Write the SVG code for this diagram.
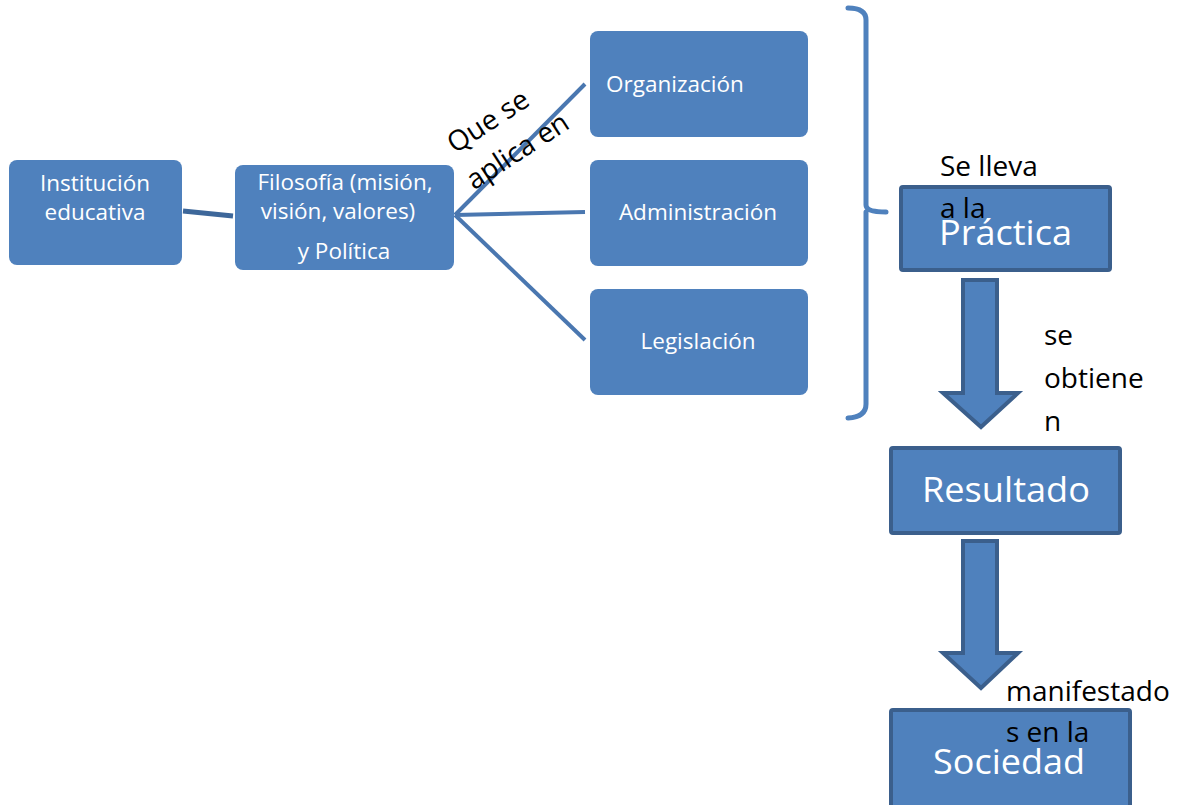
<svg xmlns="http://www.w3.org/2000/svg" width="1196" height="805" viewBox="0 0 1196 805">
<defs>
<style>
.box{fill:#4f81bd;}
.sq{fill:#4f81bd;stroke:#3b5f8c;stroke-width:4;}
.wt{fill:#ffffff;font-family:"Open Sans","Noto Sans",sans-serif;font-size:22.5px;text-anchor:middle;}
.big{fill:#ffffff;font-family:"Open Sans","Noto Sans",sans-serif;font-size:35px;}
.lab{fill:#000000;font-family:"Open Sans","Noto Sans",sans-serif;font-size:28px;}
.ln{stroke:#4a77b0;stroke-width:4;fill:none;stroke-linecap:butt;}
.arr{fill:#4f81bd;stroke:#3b5f8c;stroke-width:4;stroke-linejoin:miter;}
</style>
</defs>
<rect width="1196" height="805" fill="#ffffff"/>
<g id="connectors">
<line x1="183" y1="211" x2="233" y2="216" stroke="#3d679a" stroke-width="5"/>
<line class="ln" x1="455" y1="215" x2="585" y2="84"/>
<line class="ln" x1="455" y1="215" x2="585" y2="212"/>
<line class="ln" x1="455" y1="215" x2="585" y2="340"/>
<path d="M848 8 Q866 8 866 20 L866 205 Q866 212 886 212 M866 212 L866 404 Q866 417 848 418" stroke="#4f81bd" stroke-width="5" fill="none" stroke-linecap="round"/>
<path class="arr" d="M963 280 L997 280 L997 393 L1018 393 L981 427 L943 393 L963 393 Z"/>
<path class="arr" d="M963 541 L997 541 L997 653 L1018 653 L981 688 L943 653 L963 653 Z"/>
</g>
<g id="institucion">
<rect class="box" x="9" y="160" width="173" height="105" rx="8"/>
<text class="wt" x="95" y="191">Institución</text>
<text class="wt" x="95" y="220">educativa</text>
</g>
<g id="filosofia">
<rect class="box" x="235" y="165" width="219" height="105" rx="8"/>
<text class="wt" x="345" y="190">Filosofía (misión,</text>
<text class="wt" x="338" y="219">visión, valores)</text>
<text class="wt" x="344" y="259">y Política</text>
</g>
<g id="label-aplica">
<g transform="translate(455,154) rotate(-33)">
<text class="lab" x="0" y="0" font-size="31">Que se</text>
<text class="lab" x="-4" y="41" font-size="31">aplica en</text>
</g>
</g>
<g id="organizacion">
<rect class="box" x="590" y="31" width="218" height="106" rx="8"/>
<text class="wt" x="606" y="92" style="text-anchor:start">Organización</text>
</g>
<g id="administracion">
<rect class="box" x="590" y="160" width="218" height="106" rx="8"/>
<text class="wt" x="698" y="220">Administración</text>
</g>
<g id="legislacion">
<rect class="box" x="590" y="289" width="218" height="106" rx="8"/>
<text class="wt" x="698" y="349">Legislación</text>
</g>
<g id="practica">
<rect class="sq" x="901" y="187" width="209" height="83" rx="2"/>
<text class="big" x="939" y="245" textLength="133" lengthAdjust="spacingAndGlyphs">Práctica</text>
<text class="lab" x="940" y="176">Se lleva</text>
<text class="lab" x="940" y="218">a la</text>
</g>
<g id="resultado">
<rect class="sq" x="891" y="448" width="229" height="85" rx="2"/>
<text class="big" x="922" y="502" textLength="168" lengthAdjust="spacingAndGlyphs">Resultado</text>
<text class="lab" x="1044" y="345">se</text>
<text class="lab" x="1044" y="388">obtiene</text>
<text class="lab" x="1044" y="431">n</text>
</g>
<g id="sociedad">
<rect class="sq" x="891" y="710" width="239" height="100" rx="2"/>
<text class="big" x="933" y="774" textLength="152" lengthAdjust="spacingAndGlyphs">Sociedad</text>
<text class="lab" x="1006" y="701">manifestado</text>
<text class="lab" x="1006" y="742">s en la</text>
</g>
</svg>
